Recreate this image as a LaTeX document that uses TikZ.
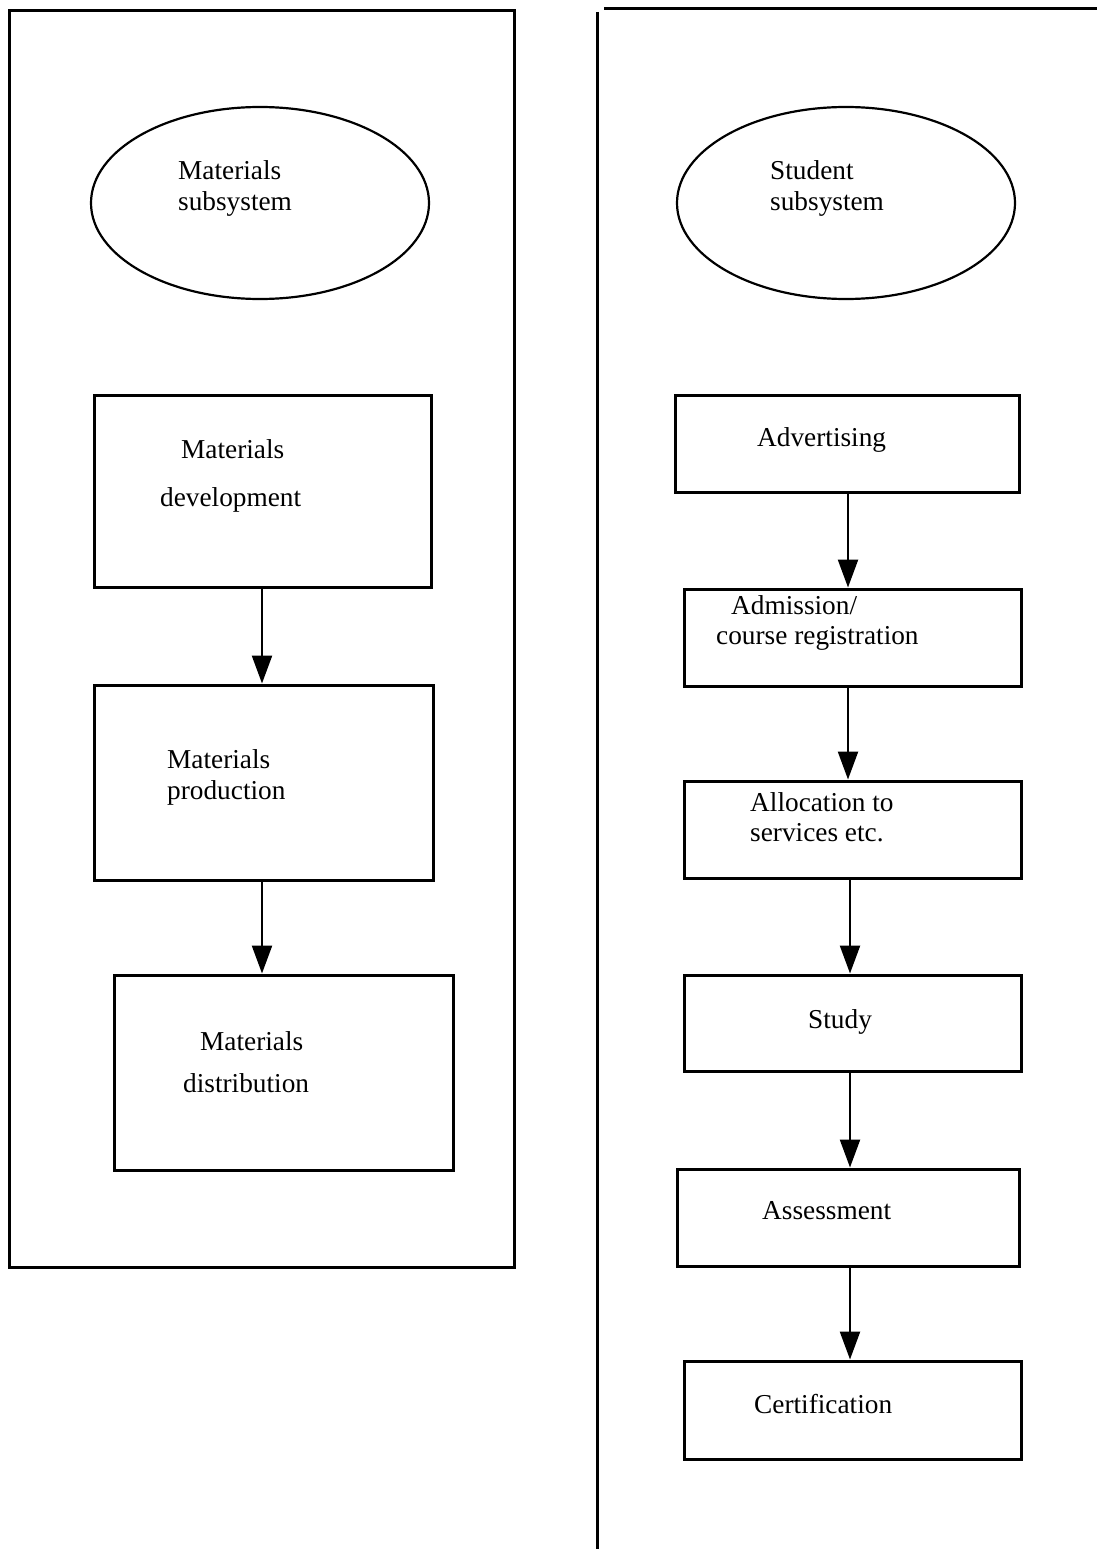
\documentclass[tikz,border=0pt]{standalone}
\usepackage{fontspec}
\setmainfont{Liberation Serif}
\usetikzlibrary{shapes.geometric,arrows.meta}
\begin{document}
\begin{tikzpicture}[x=1pt,y=-1pt,
  panel/.style={line width=3pt},
  stepbox/.style={draw,line width=3pt,rectangle,inner sep=0pt},
  oval/.style={draw,line width=2.2pt,ellipse,inner sep=0pt},
  txt/.style={anchor=base west,inner sep=0pt,font=\fontsize{27.3}{30}\selectfont},
  arr/.style={line width=2.4pt,-{Triangle[width=20pt,length=28pt]}}]
\useasboundingbox (0,0) rectangle (1097,1549);
% panels
\draw[panel] (9,11) rectangle (514,1267);
\draw[panel] (597,12) -- (597,1549);
\draw[panel] (604,9) -- (1097,9);
% ellipses
\node[oval,minimum width=338pt,minimum height=192pt] (ml) at (260,203) {};
\node[oval,minimum width=338pt,minimum height=192pt] (sl) at (846,203) {};
\node[txt] (mlt1) at (178,180) {Materials};
\node[txt] (mlt2) at (178,211) {subsystem};
\node[txt] (slt1) at (770,179) {Student};
\node[txt] (slt2) at (770,211) {subsystem};
% left boxes
\node[stepbox,minimum width=337pt,minimum height=192pt] (md) at (262.5,491) {};
\node[stepbox,minimum width=339pt,minimum height=195pt] (mp) at (263.5,782.5) {};
\node[stepbox,minimum width=339pt,minimum height=195pt] (mdi) at (283.5,1072.5) {};
\node[txt] (mdt1) at (181,458) {Materials};
\node[txt] (mdt2) at (160,506) {development};
\node[txt] (mpt1) at (167,768) {Materials};
\node[txt] (mpt2) at (167,799) {production};
\node[txt] (mdit1) at (200,1050) {Materials};
\node[txt] (mdit2) at (183,1092) {distribution};
\coordinate (xl) at (262,0);
\draw[arr] (md.south -| xl) -- (mp.north -| xl);
\draw[arr] (mp.south -| xl) -- (mdi.north -| xl);
% right boxes
\node[stepbox,minimum width=344pt,minimum height=97pt] (ad) at (847,443.5) {};
\node[stepbox,minimum width=337pt,minimum height=97pt] (adm) at (852.5,637.5) {};
\node[stepbox,minimum width=337pt,minimum height=97pt] (al) at (852.5,829.5) {};
\node[stepbox,minimum width=337pt,minimum height=96pt] (st) at (852.5,1023) {};
\node[stepbox,minimum width=342pt,minimum height=97pt] (as) at (848,1217.5) {};
\node[stepbox,minimum width=337pt,minimum height=98pt] (ce) at (852.5,1410) {};
\node[txt] (adt) at (757,446) {Advertising};
\node[txt] (admt1) at (731,614) {Admission/};
\node[txt] (admt2) at (716,644) {course registration};
\node[txt] (alt1) at (750,811) {Allocation to};
\node[txt] (alt2) at (750,841) {services etc.};
\node[txt] (stt) at (808,1028) {Study};
\node[txt] (ast) at (762,1219) {Assessment};
\node[txt] (cet) at (754,1413) {Certification};
\coordinate (xr1) at (848,0);
\coordinate (xr2) at (850,0);
\draw[arr] (ad.south -| xr1) -- (adm.north -| xr1);
\draw[arr] (adm.south -| xr1) -- (al.north -| xr1);
\draw[arr] (al.south -| xr2) -- (st.north -| xr2);
\draw[arr] (st.south -| xr2) -- (as.north -| xr2);
\draw[arr] (as.south -| xr2) -- (ce.north -| xr2);
\end{tikzpicture}
\end{document}
